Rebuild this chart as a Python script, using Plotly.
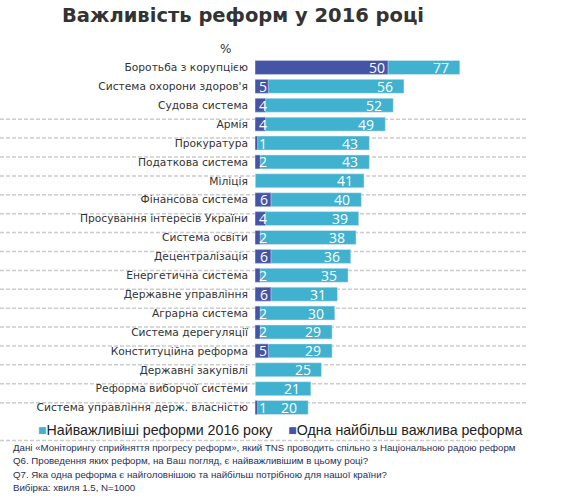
import plotly.graph_objects as go

categories = ["Боротьба з корупцією", "Система охорони здоров'я", "Судова система", "Армія",
              "Прокуратура", "Податкова система", "Міліція", "Фінансова система",
              "Просування інтересів України", "Система освіти", "Децентралізація",
              "Енергетична система", "Державне управління", "Аграрна система",
              "Система дерегуляції", "Конституційна реформа", "Державні закупівлі",
              "Реформа виборчої системи", "Система управління держ. власністю"]
most_important_2016 = [77, 56, 52, 49, 43, 43, 41, 40, 39, 38, 36, 35, 31, 30, 29, 29, 25, 21, 20]
single_most_important = [50, 5, 4, 4, 1, 2, None, 6, 4, 2, 6, 2, 6, 2, 2, 5, None, None, 1]

series_names = ["Найважливіші реформи 2016 року", "Одна найбільш важлива реформа"]
title_text = "Важливість реформ у 2016 році"
notes = ["Дані «Моніторингу сприйняття прогресу реформ», який TNS проводить спільно з Національною радою реформ",
         "Q6. Проведення яких реформ, на Ваш погляд, є найважливішим в цьому році?",
         "Q7. Яка одна реформа є найголовнішою та найбільш потрібною для нашої країни?",
         "Вибірка: хвиля 1.5, N=1000"]

LIGHT = "#40B1CE"
DARK = "#4654A6"
FONT = "DejaVu Sans"

W, H = 567, 499
L, R, T, B = 255, 46, 57.5, 81.5
PW, PH = W - L - R, H - T - B


def px_x(px):
    return (px - L) / PW


def px_y(py):
    return 1 - (py - T) / PH


idx = list(range(len(categories)))

fig = go.Figure()
fig.add_trace(go.Bar(y=idx, x=most_important_2016, orientation="h", marker_color=LIGHT,
                     width=0.74, name=series_names[0], showlegend=False))
fig.add_trace(go.Bar(y=idx, x=[v if v is not None else 0 for v in single_most_important],
                     orientation="h", marker_color=DARK, width=0.74,
                     name=series_names[1], showlegend=False))

annotations = []
for i, v in enumerate(most_important_2016):
    annotations.append(dict(x=v, y=i, xref="x", yref="y", text=str(v), showarrow=False,
                            xanchor="right", xshift=-9,
                            font=dict(family="Open Sans", size=14, color="white")))
for i, v in enumerate(single_most_important):
    if v is None:
        continue
    annotations.append(dict(x=max(v, 5.5), y=i, xref="x", yref="y", text=str(v), showarrow=False,
                            xanchor="right", xshift=-1,
                            font=dict(family="Open Sans", size=14, color="white")))

# title and %
annotations.append(dict(x=px_x(243), y=px_y(15), xref="paper", yref="paper", yanchor="middle",
                        xanchor="center", text="<b>" + title_text + "</b>", showarrow=False,
                        font=dict(family=FONT, size=19.5, color="#333333")))
annotations.append(dict(x=px_x(225), y=px_y(48), xref="paper", yref="paper", yanchor="middle",
                        xanchor="center", text="%", showarrow=False,
                        font=dict(family=FONT, size=12, color="#333333")))

# legend as text
annotations.append(dict(x=px_x(36), y=px_y(431), xref="paper", yref="paper", xanchor="left",
                        yanchor="middle",
                        text=f"<span style='color:{LIGHT}'>■</span>{series_names[0]}    "
                             f"<span style='color:{DARK}'>■</span>{series_names[1]}",
                        showarrow=False, font=dict(family="Liberation Sans", size=14.2, color="#222222")))
# notes
for k, line in enumerate(notes):
    annotations.append(dict(x=px_x(11), y=px_y(448 + 13.4 * k), xref="paper", yref="paper",
                            xanchor="left", yanchor="middle", text=line, showarrow=False,
                            font=dict(family="Liberation Sans", size=9.7, color="#1F2F55")))

DASH = dict(color="#CCCCCC", width=1.5, dash="4px,2px")
shapes = []
for i in range(3, len(categories) + 1):
    end = 527 if i < len(categories) else 483
    shapes.append(dict(type="line", xref="paper", yref="y", x0=px_x(0), x1=px_x(end),
                       y0=i - 0.26, y1=i - 0.26, layer="below", line=DASH))
shapes.append(dict(type="line", xref="paper", yref="paper", x0=px_x(0), x1=px_x(492),
                   y0=px_y(441), y1=px_y(441), layer="below", line=DASH))

fig.update_layout(
    width=W, height=H,
    margin=dict(l=L, r=R, t=T, b=B),
    barmode="overlay",
    plot_bgcolor="white", paper_bgcolor="white",
    showlegend=False,
    xaxis=dict(range=[0, 100], visible=False, fixedrange=True),
    yaxis=dict(range=[len(categories) - 0.5, -0.5], tickvals=idx, ticktext=categories,
               showgrid=False, zeroline=False, ticks="", ticklabelstandoff=6,
               tickfont=dict(family=FONT, size=10.7, color="#333333")),
    annotations=annotations,
    shapes=shapes,
)

fig.write_html("out.html", config={"displayModeBar": False},
               post_script="document.body.style.margin='0';")
